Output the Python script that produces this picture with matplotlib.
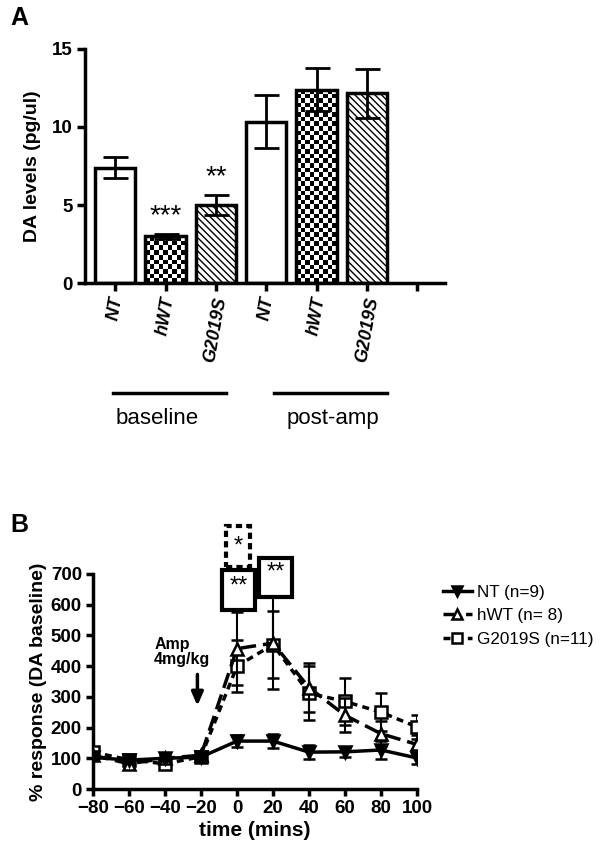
import matplotlib
matplotlib.use("Agg")
import matplotlib.pyplot as plt
import numpy as np
from matplotlib.patches import Rectangle
from matplotlib.lines import Line2D

plt.rcParams["font.family"] = ["Liberation Sans", "DejaVu Sans"]
plt.rcParams["hatch.linewidth"] = 1.0

# panel A data
bar_labels = ["NT", "hWT", "G2019S", "NT", "hWT", "G2019S"]
bar_means = [7.4, 3.0, 5.0, 10.35, 12.4, 12.15]
bar_sems = [0.7, 0.15, 0.65, 1.7, 1.4, 1.55]
bar_styles = ["open", "checker", "hatch", "open", "checker", "hatch"]
bar_stars = ["", "***", "**", "", "", ""]
groups = ["baseline", "post-amp"]

# panel B data
times = [-80, -60, -40, -20, 0, 20, 40, 60, 80, 100]
nt_mean = [103, 94, 100, 104, 156, 156, 120, 121, 127, 101]
nt_sem = [10, 8, 8, 6, 20, 23, 22, 17, 28, 18]
hwt_mean = [110, 82, 100, 110, 457, 475, 330, 240, 180, 145]
hwt_sem = [12, 10, 10, 8, 118, 150, 80, 55, 40, 30]
g_mean = [120, 95, 82, 105, 400, 470, 312, 285, 250, 202]
g_sem = [12, 8, 8, 8, 85, 110, 88, 78, 62, 40]
legend_names = ["NT (n=9)", "hWT (n= 8)", "G2019S (n=11)"]

fig = plt.figure(figsize=(6.01, 8.46), dpi=100)

# ---------------- Panel A ----------------
axA = fig.add_axes([85 / 601, 1 - 283 / 846, 360 / 601, 234 / 846])
x = np.arange(len(bar_means))
bars = axA.bar(x, bar_means, width=0.8, color="white", edgecolor="black",
               linewidth=2.5, zorder=2)
for b, style in zip(bars, bar_styles):
    if style == "hatch":
        b.set_hatch("\\\\\\\\\\")
    elif style == "checker":
        b.set_facecolor("none")
        bx, by = b.get_x(), b.get_y()
        bw, bh = b.get_width(), b.get_height()
        ny = max(1, int(round(bh * 15.6 / 4.6)))
        nx = 9
        board = np.indices((ny, nx)).sum(axis=0) % 2
        im = axA.imshow(board, cmap="gray", extent=(bx, bx + bw, by, by + bh),
                        origin="lower", interpolation="nearest", aspect="auto",
                        zorder=1.5)
        im.set_clip_path(b)
axA.errorbar(x, bar_means, yerr=bar_sems, fmt="none", ecolor="black",
             elinewidth=2, capsize=9, capthick=2, zorder=3)
for xi, m, s, st in zip(x, bar_means, bar_sems, bar_stars):
    if st:
        axA.text(xi, m + s + 0.3, st, ha="center", va="bottom", fontsize=20)

axA.set_xlim(-0.6, 6.55)
axA.set_ylim(0, 15)
axA.set_yticks([0, 5, 10, 15])
axA.set_xticks(np.arange(7))
axA.set_xticklabels(bar_labels + [""], rotation=80, fontstyle="italic",
                    fontweight="bold", fontsize=13)
axA.set_ylabel("DA levels (pg/ul)", fontweight="bold", fontsize=14, labelpad=8)
for lab in axA.get_yticklabels():
    lab.set_fontweight("bold")
    lab.set_fontsize(13.5)
axA.spines["top"].set_visible(False)
axA.spines["right"].set_visible(False)
axA.spines["left"].set_linewidth(2.5)
axA.spines["bottom"].set_linewidth(2.5)
axA.tick_params(direction="out", length=6, width=2.5, pad=3)

group_spans = [(-0.05, 2.2), (3.15, 5.4)]
group_centers = [0.83, 4.33]
trA = axA.get_xaxis_transform()
for (x0, x1), xc, g in zip(group_spans, group_centers, groups):
    axA.plot([x0, x1], [-0.47, -0.47], color="black", lw=2.5,
             transform=trA, clip_on=False)
    axA.text(xc, -0.58, g, ha="center", va="center", fontsize=16,
             transform=trA)

fig.text(10 / 601, 1 - 18 / 846, "A", fontsize=18, fontweight="bold",
         va="center", ha="left")

# ---------------- Panel B ----------------
axB = fig.add_axes([93 / 601, 1 - 789 / 846, 324 / 601, 215 / 846])
ekw = dict(ecolor="black", elinewidth=1.5, capsize=4, capthick=1.5)
styles = {
    "NT (n=9)": dict(ls="-", marker="v", mfc="black"),
    "hWT (n= 8)": dict(ls=(0, (4.5, 2)), marker="^", mfc="white"),
    "G2019S (n=11)": dict(ls=(0, (2, 1.5)), marker="s", mfc="white"),
}
series = [("G2019S (n=11)", g_mean, g_sem, 3),
          ("hWT (n= 8)", hwt_mean, hwt_sem, 4),
          ("NT (n=9)", nt_mean, nt_sem, 5)]
for name, m, s, z in series:
    st = styles[name]
    axB.errorbar(times, m, yerr=s, color="black", lw=2.5, ls=st["ls"],
                 marker=st["marker"], ms=8, mfc=st["mfc"], mec="black",
                 mew=1.8, zorder=z, **ekw)

axB.set_xlim(-80, 100)
axB.set_ylim(0, 700)
axB.set_xticks(np.arange(-80, 101, 20))
axB.set_yticks(np.arange(0, 701, 100))
for lab in axB.get_xticklabels() + axB.get_yticklabels():
    lab.set_fontweight("bold")
    lab.set_fontsize(13.5)
axB.set_xlabel("time (mins)", fontweight="bold", fontsize=15, labelpad=3)
axB.set_ylabel("% response (DA baseline)", fontweight="bold", fontsize=14,
               labelpad=3)
axB.spines["top"].set_visible(False)
axB.spines["right"].set_visible(False)
axB.spines["left"].set_linewidth(2.5)
axB.spines["bottom"].set_linewidth(2.5)
axB.tick_params(direction="out", length=5, width=2.5, pad=3)

# significance boxes
axB.add_patch(Rectangle((-8.3, 583), 18.3, 130, fill=False, lw=3,
                        ec="black", clip_on=False))
axB.text(0.85, 660, "**", ha="center", va="center", fontsize=17)
axB.add_patch(Rectangle((12.2, 625), 18.3, 127, fill=False, lw=3,
                        ec="black", clip_on=False))
axB.text(21.3, 705, "**", ha="center", va="center", fontsize=17)
axB.add_patch(Rectangle((-6, 723), 13.2, 133, fill=False, lw=3,
                        ec="black", ls=(0, (1.5, 1)), clip_on=False))
axB.text(0.6, 790, "*", ha="center", va="center", fontsize=17)

axB.text(-46, 445, "Amp\n4mg/kg", ha="left", va="center", fontsize=11.5,
         fontweight="bold", linespacing=1.0)
axB.annotate("", xy=(-22, 262), xytext=(-22, 382),
             arrowprops=dict(arrowstyle="-|>,head_width=0.35,head_length=0.8",
                             color="black", lw=2.5))

handles = [Line2D([], [], color="black", lw=2.5, ls=styles[n]["ls"],
                  marker=styles[n]["marker"], ms=7, mfc=styles[n]["mfc"],
                  mec="black", mew=1.8)
           for n in legend_names]
fig.legend(handles, legend_names,
           loc="upper left", bbox_to_anchor=(434 / 601, 1 - 576 / 846),
           frameon=False, fontsize=12.3, handlelength=1.7, handletextpad=0.3,
           labelspacing=0.5, borderpad=0)

fig.text(10 / 601, 1 - 525 / 846, "B", fontsize=18, fontweight="bold",
         va="center", ha="left")

fig.savefig("out.png", dpi=100)
